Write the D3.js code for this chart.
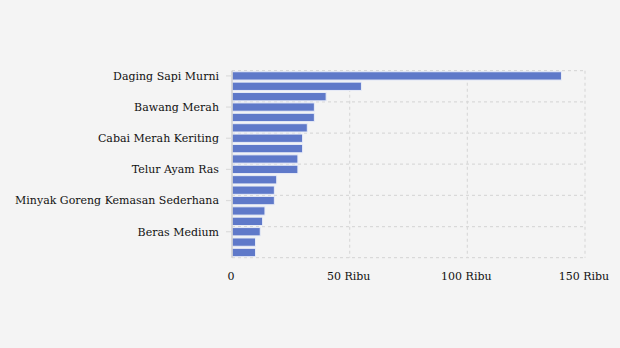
<!DOCTYPE html>
<html><head><meta charset="utf-8">
<script src="https://cdn.jsdelivr.net/npm/d3@7/dist/d3.min.js"></script>
<style>
html,body{margin:0;padding:0;background:#f4f4f4;}
svg{display:block;}
</style></head>
<body><svg id="c" width="620" height="348"></svg>
<script>
const categories = [
  "Daging Sapi Murni","Daging Ayam Ras","Cabai Rawit Merah",
  "Bawang Merah","Bawang Putih Honan","Gula Pasir Lokal",
  "Cabai Merah Keriting","Cabai Merah Besar","Cabai Rawit Hijau",
  "Telur Ayam Ras","Beras Super","Beras Premium",
  "Minyak Goreng Kemasan Sederhana","Minyak Goreng Curah","Gula Pasir Premium",
  "Beras Medium","Beras Kualitas Bawah I","Beras Kualitas Bawah II"
];
const values = [140,55,40,35,35,32,30,30,28,28,19,18,18,14,13,12,10,10];
const xTicks = [0,50,100,150];
const xTickLabels = ["0","50 Ribu","100 Ribu","150 Ribu"];

(function(){
const FONT = "'DejaVu Serif', serif";
const svg = d3.select("#c");
const pL = 232, pR = 585, pT = 70.7, pB = 257.7;
const x = d3.scaleLinear().domain([0,150]).range([pL,pR]);
const y = d3.scaleBand().domain(categories).range([pT,pB]).paddingInner(0.2).paddingOuter(0.1);
const yb = d3.scaleBand().domain(categories).range([pT,pB]);

const grid = svg.append("g").attr("stroke","#d9d9d9").attr("stroke-width",1.2).attr("stroke-dasharray","3,3").attr("fill","none");
xTicks.slice(1).forEach(t=>{
  grid.append("line").attr("x1",x(t)).attr("x2",x(t)).attr("y1",pT).attr("y2",pB);
});
categories.forEach((c,i)=>{
  if(i%3===0){
    grid.append("line").attr("x1",pL).attr("x2",pR).attr("y1",yb(c)).attr("y2",yb(c));
  }
});
grid.append("line").attr("x1",pL).attr("x2",pR).attr("y1",pB).attr("y2",pB);

svg.append("g").selectAll("rect").data(values).join("rect")
  .attr("x",x(0)).attr("y",(d,i)=>y(categories[i]))
  .attr("width",d=>x(d)-x(0)).attr("height",y.bandwidth())
  .attr("fill","#5f79c9").attr("stroke","#e8ecf7").attr("stroke-width",1);

svg.append("line").attr("x1",pL).attr("x2",pL).attr("y1",pT).attr("y2",pB)
  .attr("stroke","#cfcfcf").attr("stroke-width",1.5);

const yl = svg.append("g");
categories.forEach((c,i)=>{
  if(i%3!==0) return;
  const cy = yb(c)+yb.bandwidth()/2;
  yl.append("line").attr("x1",pL-6).attr("x2",pL).attr("y1",cy).attr("y2",cy).attr("stroke","#dcdcdc").attr("stroke-width",1.2);
  yl.append("text").attr("x",219).attr("y",cy).attr("dy","0.35em").attr("text-anchor","end")
    .attr("font-family",FONT).attr("font-size",11).attr("fill","#111").text(c);
});

const xl = svg.append("g");
xTicks.forEach((t,i)=>{
  xl.append("text").attr("x",x(t)-1).attr("y",280).attr("text-anchor","middle")
    .attr("font-family",FONT).attr("font-size",11).attr("fill","#111").text(xTickLabels[i]);
});
})();
</script></body></html>
